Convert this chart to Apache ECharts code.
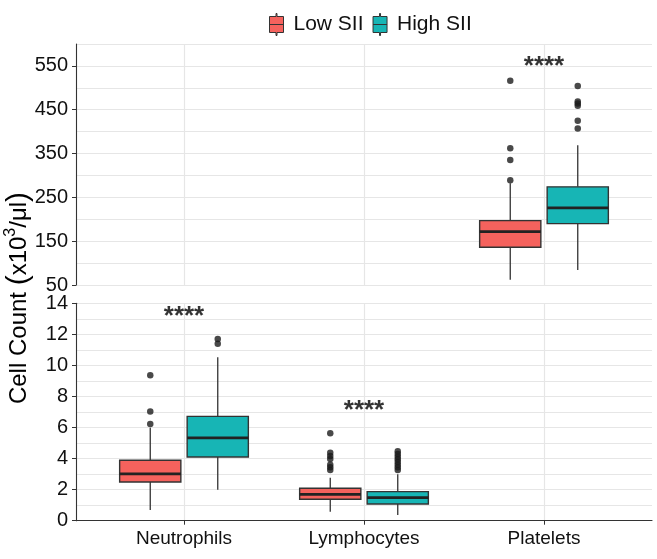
<!DOCTYPE html>
<html>
<head>
<meta charset="utf-8">
<script src="https://cdn.jsdelivr.net/npm/echarts@6/dist/echarts.min.js"></script>
<style>html,body{margin:0;padding:0;background:#fff}#chart{width:657px;height:559px}</style>
</head>
<body>
<div id="chart"></div>
<script>
// ---------- data ----------
const categories = ['Neutrophils', 'Lymphocytes', 'Platelets'];
const groups = ['Low SII', 'High SII'];
// panel for each category: 0 = upper panel (large counts), 1 = lower panel
const panelOf = [1, 1, 0];
// five-number summaries [lower whisker, Q1, median, Q3, upper whisker]
const lowSIIBox = [
  [0.69, 2.49, 3.01, 3.89, 5.99],
  [0.58, 1.38, 1.70, 2.09, 2.77],
  [62, 136, 172, 197, 282]
];
const highSIIBox = [
  [2.00, 4.10, 5.33, 6.72, 10.52],
  [0.37, 1.08, 1.48, 1.87, 2.99],
  [84, 190, 226, 274, 369]
];
const lowSIIOutliers = [
  [6.23, 7.04, 9.36],
  [3.26, 3.44, 3.61, 3.97, 4.17, 4.38, 5.63],
  [289, 335, 362, 516]
];
const highSIIOutliers = [
  [11.40, 11.70],
  [3.26, 3.44, 3.61, 3.78, 3.95, 4.12, 4.29, 4.47],
  [407, 425, 459, 464, 469, 504]
];
const sigLabels = ['****', '****', '****'];
const sigLabelY = [13.1, 7.1, 548];
const upperTicks = [50, 150, 250, 350, 450, 550];
const lowerTicks = [0, 2, 4, 6, 8, 10, 12, 14];

// ---------- style ----------
const FONT = '"Liberation Sans", Arial, Helvetica, sans-serif';
const colors = ['#F5625D', '#17B5B5'];
const dodge = [-0.1875, 0.1875];
const BOX_W = 0.34;
const GRID_COLOR = '#E6E6E6';
const AXIS_COLOR = '#333333';

function boxRender(color) {
  return function (params, api) {
    const x = api.value(0);
    const lo = api.coord([x, api.value(1)]);
    const q1 = api.coord([x, api.value(2)]);
    const md = api.coord([x, api.value(3)]);
    const q3 = api.coord([x, api.value(4)]);
    const hi = api.coord([x, api.value(5)]);
    const hw = api.size([BOX_W, 0])[0] / 2;
    const cx = lo[0];
    return {
      type: 'group',
      children: [
        { type: 'line', shape: { x1: cx, y1: hi[1], x2: cx, y2: q3[1] }, style: { stroke: AXIS_COLOR, lineWidth: 1.3 } },
        { type: 'line', shape: { x1: cx, y1: q1[1], x2: cx, y2: lo[1] }, style: { stroke: AXIS_COLOR, lineWidth: 1.3 } },
        { type: 'rect', shape: { x: cx - hw, y: q3[1], width: hw * 2, height: q1[1] - q3[1] }, style: { fill: color, stroke: AXIS_COLOR, lineWidth: 1.4 } },
        { type: 'line', shape: { x1: cx - hw, y1: md[1], x2: cx + hw, y2: md[1] }, style: { stroke: '#222', lineWidth: 2.8 } }
      ]
    };
  };
}

const boxes = [lowSIIBox, highSIIBox];
const outliers = [lowSIIOutliers, highSIIOutliers];
const series = [];
[0, 1].forEach(function (panel) {
  [0, 1].forEach(function (g) {
    const boxData = [];
    const outData = [];
    categories.forEach(function (c, i) {
      if (panelOf[i] !== panel) return;
      const x = i + 1 + dodge[g];
      boxData.push([x].concat(boxes[g][i]));
      outliers[g][i].forEach(function (v) { outData.push([x, v]); });
    });
    series.push({
      name: groups[g], type: 'custom', xAxisIndex: panel, yAxisIndex: panel * 2,
      renderItem: boxRender(colors[g]), itemStyle: { color: colors[g] },
      encode: { x: 0, y: [1, 2, 3, 4, 5] }, data: boxData, z: 3, silent: true
    });
    series.push({
      name: groups[g] + ' outliers', type: 'scatter', xAxisIndex: panel, yAxisIndex: panel * 2,
      symbolSize: 6.5, itemStyle: { color: '#1c1c1c' }, data: outData, z: 4, silent: true
    });
  });
  const sigData = [];
  categories.forEach(function (c, i) {
    if (panelOf[i] === panel) sigData.push({ value: [i + 1, sigLabelY[i]], name: sigLabels[i] });
  });
  series.push({
    name: 'sig', type: 'scatter', xAxisIndex: panel, yAxisIndex: panel * 2, symbolSize: 1,
    itemStyle: { color: 'rgba(0,0,0,0)' }, silent: true, z: 5,
    label: { show: true, position: 'inside', formatter: function (p) { return p.name; },
      fontFamily: FONT, fontSize: 26, fontWeight: 'bold', color: '#000' },
    data: sigData
  });
});

const catPos = categories.map(function (c, i) { return i + 1; });

function xAxisFor(panel) {
  const bottom = panel === 1;
  return {
    type: 'value', gridIndex: panel, min: 0.4, max: 3.6,
    axisLine: { show: bottom, onZero: false, lineStyle: { color: AXIS_COLOR, width: 1.1 } },
    axisTick: { show: bottom, customValues: catPos, length: 4, lineStyle: { color: AXIS_COLOR } },
    axisLabel: { show: bottom, customValues: catPos, margin: 9, fontFamily: FONT, fontSize: 19, color: '#111',
      formatter: function (v) { return categories[Math.round(v) - 1] || ''; } },
    splitLine: { show: true, lineStyle: { color: GRID_COLOR, width: 1.2 } }
  };
}

function yAxesFor(panel, min, max, step, ticks) {
  return [
    {
      type: 'value', gridIndex: panel, min: min, max: max, position: 'left',
      axisLine: { show: true, lineStyle: { color: AXIS_COLOR, width: 1.1 } },
      axisTick: { show: true, customValues: ticks, length: 4, lineStyle: { color: AXIS_COLOR } },
      axisLabel: { show: true, customValues: ticks, margin: 8, fontFamily: FONT, fontSize: 20, color: '#111' },
      splitLine: { show: false }
    },
    {
      type: 'value', gridIndex: panel, min: min, max: max, interval: step, position: 'left',
      axisLine: { show: false }, axisTick: { show: false }, axisLabel: { show: false },
      splitLine: { show: true, lineStyle: { color: GRID_COLOR, width: 1.2 } }
    }
  ];
}

const option = {
  animation: false,
  backgroundColor: '#fff',
  legend: {
    data: groups, left: 264, top: 8, itemWidth: 14, itemHeight: 22, itemGap: 9,
    icon: 'path://M6.5,0 L7.5,0 L7.5,3 L14,3 L14,19 L7.5,19 L7.5,22 L6.5,22 L6.5,19 L0,19 L0,3 L6.5,3 Z M0,11 L14,11',
    itemStyle: { borderColor: '#333', borderWidth: 1 },
    textStyle: { fontFamily: FONT, fontSize: 21, color: '#111', padding: [0, 0, 0, 5] },
    selectedMode: false
  },
  grid: [
    { left: 76, right: 5, top: 44, height: 241 },
    { left: 76, right: 5, top: 303.3, height: 217.4 }
  ],
  xAxis: [xAxisFor(0), xAxisFor(1)],
  yAxis: yAxesFor(0, 50, 600, 50, upperTicks).concat(yAxesFor(1, 0, 14, 1, lowerTicks)),
  graphic: [{
    type: 'text', x: 19, y: 298, rotation: Math.PI / 2,
    style: {
      text: '{a|Cell Count }{p|(}{a|x10}{s|3}{a|/μl}{p|)}',
      align: 'center', verticalAlign: 'middle',
      rich: {
        a: { fontFamily: FONT, fontSize: 24, color: '#111', lineHeight: 32 },
        p: { fontFamily: FONT, fontSize: 30, color: '#111', lineHeight: 32 },
        s: { fontFamily: FONT, fontSize: 16, color: '#111', lineHeight: 32, verticalAlign: 'top' }
      }
    }
  }],
  series: series
};

const chart = echarts.init(document.getElementById('chart'), null, { renderer: 'canvas' });
chart.setOption(option);
</script>
</body>
</html>
